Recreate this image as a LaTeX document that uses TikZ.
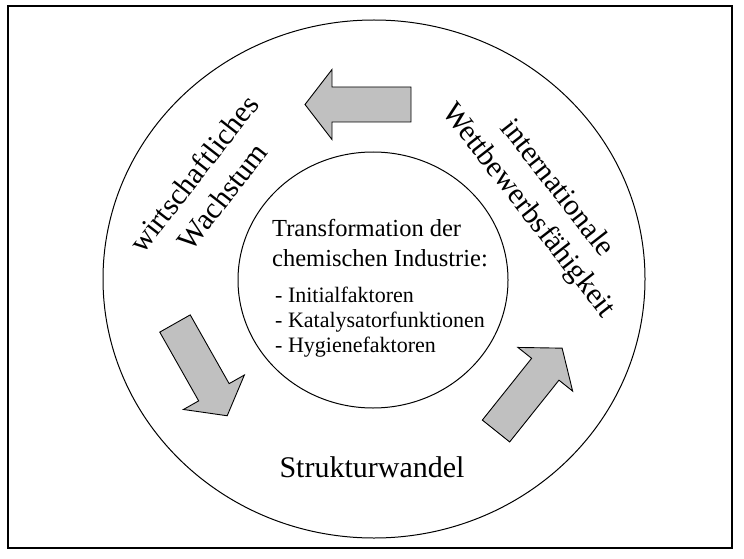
\documentclass[tikz,border=0pt]{standalone}
\usepackage{fontspec}
\setmainfont{Liberation Serif}
\definecolor{arrowgray}{RGB}{192,192,192}
\begin{document}
\begin{tikzpicture}[x=1pt,y=-1pt,
  ring/.style={draw=black, line width=1pt},
  blockfill/.style={draw=black, fill=arrowgray, line width=0.9pt, line join=miter},
  bigtext/.style={font=\fontsize{30}{36.5}\selectfont, inner sep=0pt, align=center},
  midtext/.style={font=\fontsize{24.5}{30}\selectfont, inner sep=0pt, anchor=base west},
  listtext/.style={font=\fontsize{22}{26}\selectfont, inner sep=0pt, anchor=base west},
  blockarrow/.pic={\draw[blockfill] (0,-17.5) -- (79,-17.5) -- (79,-35) -- (106,0) -- (79,35) -- (79,17.5) -- (0,17.5) -- cycle;}
]
\useasboundingbox (0,0) rectangle (744,559);
% frame
\draw[line width=1.2pt] (8,6) rectangle (732,548);
% outer and inner rings
\draw[ring] (374,279) ellipse [x radius=271pt, y radius=259pt];
\draw[ring] (373,280) ellipse [x radius=135pt, y radius=128pt];

% centre text
\node[midtext] (t1) at (272,236) {Transformation der};
\node[midtext] (t2) at (272,266) {chemischen Industrie:};
\node[listtext] (l1) at (275,302) {- Initialfaktoren};
\node[listtext] (l2) at (275,327) {- Katalysatorfunktionen};
\node[listtext] (l3) at (275,352) {- Hygienefaktoren};

% ring labels
\node[bigtext, rotate=52] (growth) at (208,185) {wirtschaftliches\\Wachstum};
\node[bigtext, rotate=-52] (compet) at (542,200) {internationale\\Wettbewerbsfähigkeit};
\node[bigtext] (change) at (372,467) {Strukturwandel};

% block arrows around the ring
\pic (arrowtop) [rotate=180] at (411,104.5) {blockarrow};
\pic (arrowright) [rotate=51.4] at (496,431) {blockarrow};
\pic (arrowleft) [rotate=-60.5] at (175,323.5) {blockarrow};
\end{tikzpicture}
\end{document}
